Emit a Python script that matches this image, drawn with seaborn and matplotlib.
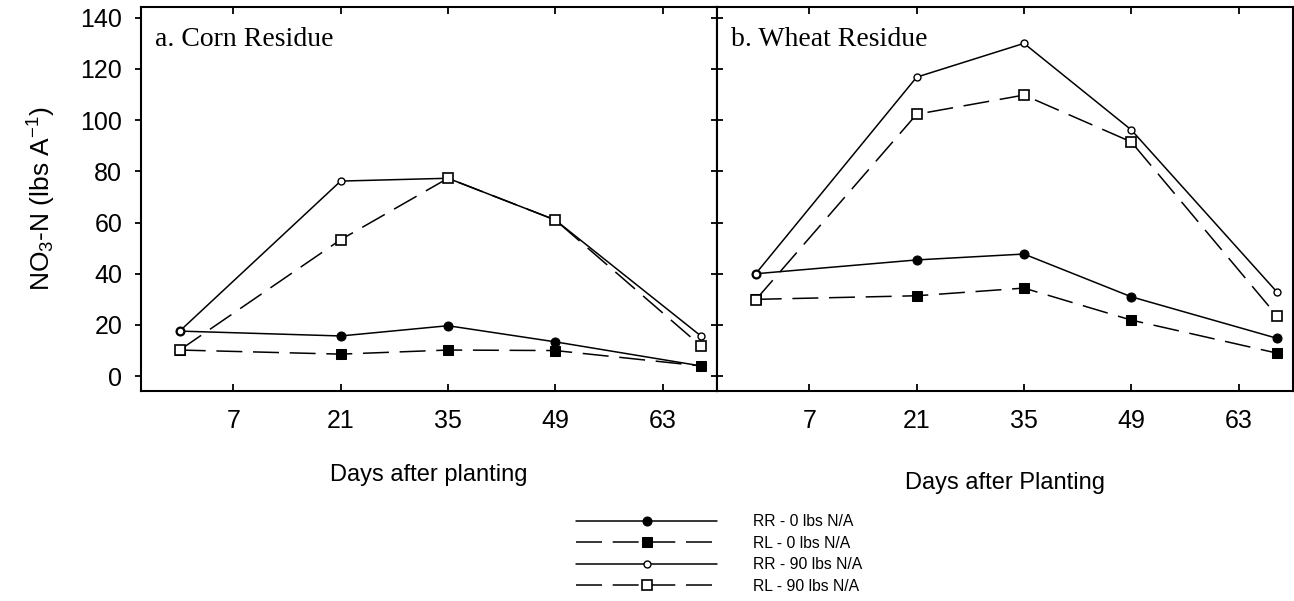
import matplotlib
matplotlib.use("Agg")
import matplotlib.pyplot as plt
import seaborn as sns
import pandas as pd

days = [0, 21, 35, 49, 68]
series_labels = ["RR - 0 lbs N/A", "RL - 0 lbs N/A", "RR - 90 lbs N/A", "RL - 90 lbs N/A"]

corn_rr0 = [17.6, 15.7, 19.7, 13.4, 4.0]
corn_rl0 = [10.2, 8.6, 10.2, 10.0, 4.0]
corn_rr90 = [17.6, 76.2, 77.3, 61.0, 15.7]
corn_rl90 = [10.2, 53.3, 77.3, 61.0, 11.8]

wheat_rr0 = [40.0, 45.4, 47.7, 31.0, 14.8]
wheat_rl0 = [30.0, 31.4, 34.4, 21.9, 9.0]
wheat_rr90 = [40.0, 116.8, 130.0, 96.2, 32.9]
wheat_rl90 = [29.8, 102.3, 109.8, 91.5, 23.6]

yticks = [0, 20, 40, 60, 80, 100, 120, 140]
xticks = [7, 21, 35, 49, 63]

sns.set_style("ticks")
plt.rcParams["font.family"] = ["Liberation Sans", "DejaVu Sans"]
plt.rcParams["mathtext.default"] = "regular"
for k in ["text.color", "axes.labelcolor", "xtick.color", "ytick.color", "axes.edgecolor"]:
    plt.rcParams[k] = "black"

fig = plt.figure(figsize=(12.94, 6.01), dpi=100)
axL = fig.add_axes([141 / 1294, 1 - 391 / 601, 576 / 1294, 384 / 601])
axR = fig.add_axes([717 / 1294, 1 - 391 / 601, 576 / 1294, 384 / 601])

dash = (0, (17, 7))
styles = [
    dict(linestyle="-", marker="o", markersize=6.5, markerfacecolor="black", markeredgecolor="black"),
    dict(linestyle=dash, marker="s", markersize=6.5, markerfacecolor="black", markeredgecolor="black"),
    dict(linestyle="-", marker="o", markersize=5, markerfacecolor="white", markeredgecolor="black", markeredgewidth=1.0),
    dict(linestyle=dash, marker="s", markersize=6.5, markerfacecolor="white", markeredgecolor="black", markeredgewidth=1.2),
]

def draw(ax, vals):
    for lab, v, st in zip(series_labels, vals, styles):
        df = pd.DataFrame({"day": days, "val": v})
        sns.lineplot(data=df, x="day", y="val", ax=ax, color="black", linewidth=1.1,
                     label=lab, legend=False, **st)

draw(axL, [corn_rr0, corn_rl0, corn_rr90, corn_rl90])
draw(axR, [wheat_rr0, wheat_rl0, wheat_rr90, wheat_rl90])

for ax in (axL, axR):
    ax.set_xlim(-5.05, 70.1)
    ax.set_ylim(-5.8, 144.2)
    ax.set_xticks(xticks)
    ax.set_yticks(yticks)
    for s in ax.spines.values():
        s.set_linewidth(1.5)
        s.set_visible(True)
    ax.tick_params(axis="x", which="both", direction="in", top=True, bottom=True,
                   length=5, width=1.3, labelsize=18, pad=13)
    ax.set_ylabel("")

axL.tick_params(axis="y", direction="out", left=True, right=False, length=4.5, width=1.3,
                labelsize=18, pad=9)
axR.tick_params(axis="y", direction="inout", left=True, right=False, length=9, width=1.3,
                labelleft=False)
axR.tick_params(axis="y", which="both", right=True)
for t in axR.yaxis.get_major_ticks():
    t.tick2line.set_marker(matplotlib.lines.TICKRIGHT)
    t.tick2line.set_markersize(5)

axL.set_xlabel("Days after planting", fontsize=17, labelpad=22)
axR.set_xlabel("Days after Planting", fontsize=17, labelpad=28)
axL.set_ylabel(r"NO$_3$-N (lbs A$^{-1}$)", fontsize=19, labelpad=16)

axL.text(0.024, 0.915, "a. Corn Residue", transform=axL.transAxes, fontsize=20,
         family=["Liberation Serif", "DejaVu Serif"], va="center", ha="left")
axR.text(0.024, 0.915, "b. Wheat Residue", transform=axR.transAxes, fontsize=20,
         family=["Liberation Serif", "DejaVu Serif"], va="center", ha="left")

handles, labels = axL.get_legend_handles_labels()
fig.legend(handles, labels, loc="upper left", bbox_to_anchor=(576 / 1294, 1 - 514 / 601),
           frameon=False, fontsize=11.3, handlelength=9.0, handletextpad=2.3,
           labelspacing=0.42, borderpad=0, borderaxespad=0)

fig.savefig("out.png", dpi=100)
